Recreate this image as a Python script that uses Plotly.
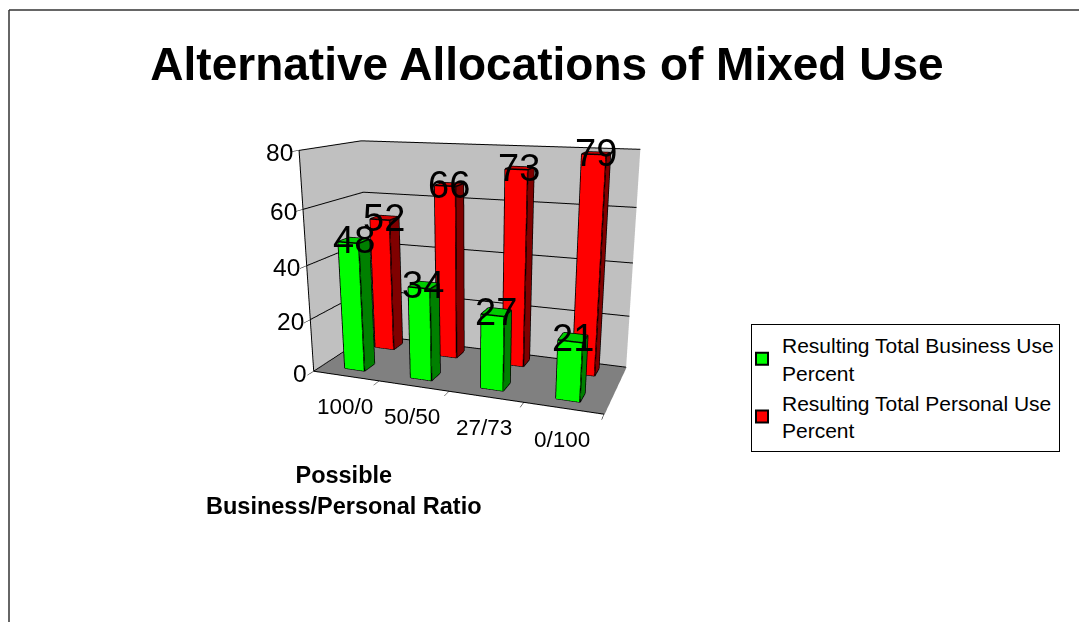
import plotly.graph_objects as go

W, H = 1079, 622
categories = ["100/0", "50/50", "27/73", "0/100"]
business = [48, 34, 27, 21]
personal = [52, 66, 73, 79]
series_names = ["Resulting Total Business Use<br>Percent", "Resulting Total Personal Use<br>Percent"]
z_ticks = [0, 20, 40, 60, 80]
title_text = "Alternative Allocations of Mixed Use"
xaxis_title = "<b>Possible<br>Business/Personal Ratio</b>"

FONT = "Liberation Sans, Arial, sans-serif"
BAR_W = 0.305
BAR_D = 0.18


def bar_mesh(vals, yc, face, side, top, name):
    xs, ys, zs, i, j, k, fc = [], [], [], [], [], [], []
    ex, ey, ez = [], [], []
    quads = [((0, 1, 5, 4), face), ((1, 2, 6, 5), side), ((4, 5, 6, 7), top),
             ((3, 2, 6, 7), side), ((0, 3, 7, 4), side), ((0, 1, 2, 3), side)]
    for c, v in enumerate(vals):
        x0, x1 = c - BAR_W / 2, c + BAR_W / 2
        y0, y1 = yc - BAR_D / 2, yc + BAR_D / 2
        pts = [(x0, y0, 0), (x1, y0, 0), (x1, y1, 0), (x0, y1, 0),
               (x0, y0, v), (x1, y0, v), (x1, y1, v), (x0, y1, v)]
        b = len(xs)
        for p in pts:
            xs.append(p[0]); ys.append(p[1]); zs.append(p[2])
        for q, col in quads:
            i += [b + q[0], b + q[0]]; j += [b + q[1], b + q[2]]; k += [b + q[2], b + q[3]]
            fc += [col, col]
        for a, d in [(0, 1), (1, 2), (4, 5), (5, 6), (6, 7), (7, 4), (0, 4), (1, 5), (2, 6)]:
            ex += [pts[a][0], pts[d][0], None]
            ey += [pts[a][1], pts[d][1], None]
            ez += [pts[a][2], pts[d][2], None]
    return [
        go.Mesh3d(x=xs, y=ys, z=zs, i=i, j=j, k=k, facecolor=fc, flatshading=True,
                  lighting=dict(ambient=1, diffuse=0, specular=0, roughness=1, fresnel=0),
                  hoverinfo="skip", showlegend=False),
        go.Scatter3d(x=ex, y=ey, z=ez, mode="lines", line=dict(color="black", width=3),
                     hoverinfo="skip", showlegend=False),
        go.Scatter3d(x=[None], y=[None], z=[None], mode="markers", name=name,
                     marker=dict(symbol="square", size=12, color=face,
                                 line=dict(color="black", width=1.5))),
    ]


Y_B, Y_P = 0.24, 0.80
fig = go.Figure()
for t in bar_mesh(business, Y_B, "#00FF00", "#008000", "#00CC00", series_names[0]):
    fig.add_trace(t)
for t in bar_mesh(personal, Y_P, "#FF0000", "#800000", "#CC0000", series_names[1]):
    fig.add_trace(t)

ann = []
for c, v in enumerate(business):
    ann.append(dict(x=c, y=Y_B, z=v, text=str(v), showarrow=False, font=dict(size=38, color="black", family=FONT)))
for c, v in enumerate(personal):
    ann.append(dict(x=c, y=Y_P, z=v, text=str(v), showarrow=False, font=dict(size=38, color="black", family=FONT)))
for c, lab in enumerate(categories):
    ann.append(dict(x=c, y=0, z=0, text=lab, showarrow=False, yshift=-31, xshift=-1,
                    font=dict(size=22.5, color="black", family=FONT)))
for z in z_ticks:
    ann.append(dict(x=-0.5, y=0, z=z, text=str(z), showarrow=False, xanchor="right", xshift=-4, yshift=-2,
                    font=dict(size=24.5, color="black", family=FONT)))

fig.update_layout(
    width=W, height=H, margin=dict(l=0, r=0, t=0, b=0), autosize=False,
    paper_bgcolor="white", plot_bgcolor="white",
    font=dict(family=FONT, color="black"),
    title=dict(text="<b>" + title_text + "</b>", x=547 / W, y=1 - 64 / H, xanchor="center", yanchor="middle",
               font=dict(size=46, color="black", family=FONT)),
    scene=dict(
        domain=dict(x=[170.7 / W, 770.7 / W], y=[0, 1]),
        aspectmode="manual", aspectratio=dict(x=1.337, y=0.547, z=0.995),
        camera=dict(eye=dict(x=1.12, y=-3.036, z=0.783), center=dict(x=0, y=0, z=-0.216),
                    up=dict(x=0, y=0, z=1), projection=dict(type="perspective")),
        xaxis=dict(range=[-0.5, 3.5], tickvals=[-0.5, 0.5, 1.5, 2.5, 3.5], showticklabels=False,
                   showgrid=False, zeroline=False, showline=True, linecolor="black", linewidth=2,
                   ticks="outside", ticklen=6, tickcolor="black", title=dict(text=""),
                   showbackground=True, backgroundcolor="#C0C0C0", showspikes=False),
        yaxis=dict(range=[0, 1], tickvals=[], showticklabels=False, showgrid=False, zeroline=False,
                   showline=True, linecolor="#808080", linewidth=2, title=dict(text=""),
                   showbackground=True, backgroundcolor="#C0C0C0", showspikes=False),
        zaxis=dict(range=[0, 80], tickvals=z_ticks, showticklabels=False, showgrid=True,
                   gridcolor="black", gridwidth=2, zeroline=False, showline=True, linecolor="black",
                   linewidth=2, ticks="outside", ticklen=6, tickcolor="black", title=dict(text=""),
                   showbackground=True, backgroundcolor="#808080", showspikes=False),
        annotations=ann,
    ),
    legend=dict(x=751 / W, y=1 - 324 / H, xanchor="left", yanchor="top", bgcolor="white",
                bordercolor="black", borderwidth=1, font=dict(size=21, color="black", family=FONT),
                itemsizing="constant", indentation=-10),
    annotations=[dict(text=xaxis_title, xref="paper", yref="paper", x=344 / W, y=1 - 490 / H,
                      xanchor="center", yanchor="middle",
                      showarrow=False, font=dict(size=23.5, color="black", family=FONT), align="center")],
    shapes=[
        dict(type="line", xref="paper", yref="paper", x0=9 / W, x1=9 / W, y0=0, y1=1 - 10 / H,
             line=dict(color="#333333", width=1.5)),
        dict(type="line", xref="paper", yref="paper", x0=9 / W, x1=1, y0=1 - 10 / H, y1=1 - 10 / H,
             line=dict(color="#333333", width=1.5)),
    ],
)
fig.write_html("out.html", config=dict(displayModeBar=False),
               post_script="document.body.style.margin='0';")
